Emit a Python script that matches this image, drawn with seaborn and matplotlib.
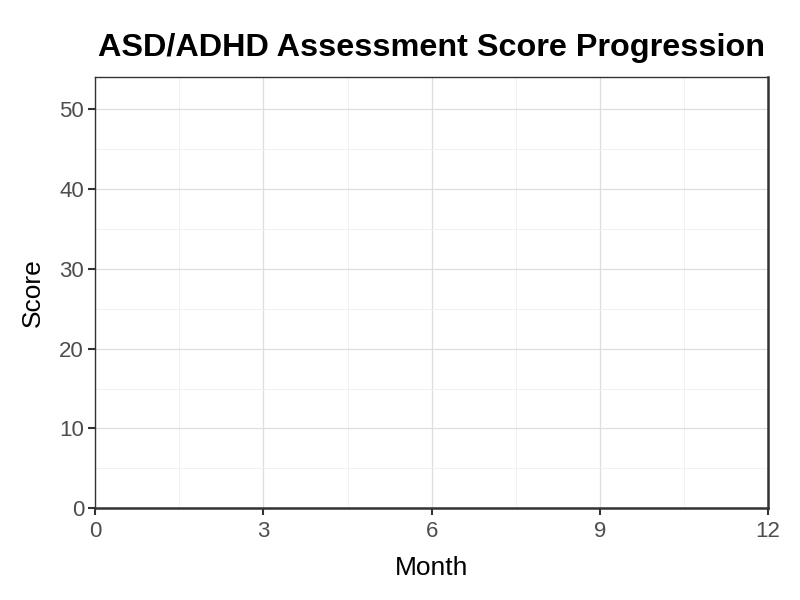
import pandas as pd
import seaborn as sns
import matplotlib.pyplot as plt

# The reference chart has no data drawn: empty series
months = []
scores = []
x_ticks = [0, 3, 6, 9, 12]
y_ticks = [0, 10, 20, 30, 40, 50]

df = pd.DataFrame({"Month": pd.Series(months, dtype=float),
                   "Score": pd.Series(scores, dtype=float)})

sns.set_style("white")
plt.rcParams['font.family'] = ['Liberation Sans', 'DejaVu Sans']

fig = plt.figure(figsize=(8, 6), dpi=100)
ax = fig.add_axes([0.119, 0.153, 0.841, 0.719])

if len(df):
    sns.lineplot(data=df, x="Month", y="Score", ax=ax)

ax.set_xlim(0, 12)
ax.set_ylim(0, 54.1)
ax.set_xticks(x_ticks)
ax.set_yticks(y_ticks)
ax.set_xticks([1.5, 4.5, 7.5, 10.5], minor=True)
ax.set_yticks([5, 15, 25, 35, 45], minor=True)
ax.grid(True, which="major", color="#dedede", linewidth=0.9)
ax.grid(True, which="minor", color="#efefef", linewidth=0.6)
ax.set_axisbelow(True)

for s in ax.spines.values():
    s.set_color("#333333")
    s.set_linewidth(1.0)
ax.spines["bottom"].set_linewidth(1.8)
ax.spines["right"].set_linewidth(1.8)

ax.tick_params(axis="both", which="major", bottom=True, left=True,
               length=5, width=1.5, color="#333333",
               labelsize=16, labelcolor="#4d4d4d", pad=3)
ax.tick_params(axis="x", which="major", pad=4)
ax.tick_params(axis="both", which="minor", length=0)

ax.set_xlabel("Month", fontsize=19, color="black", labelpad=10)
ax.set_ylabel("Score", fontsize=19, color="black", labelpad=10)
ax.set_title("ASD/ADHD Assessment Score Progression", fontsize=23.3,
             fontweight="bold", color="black", pad=15)

fig.savefig("out.png", dpi=100)
